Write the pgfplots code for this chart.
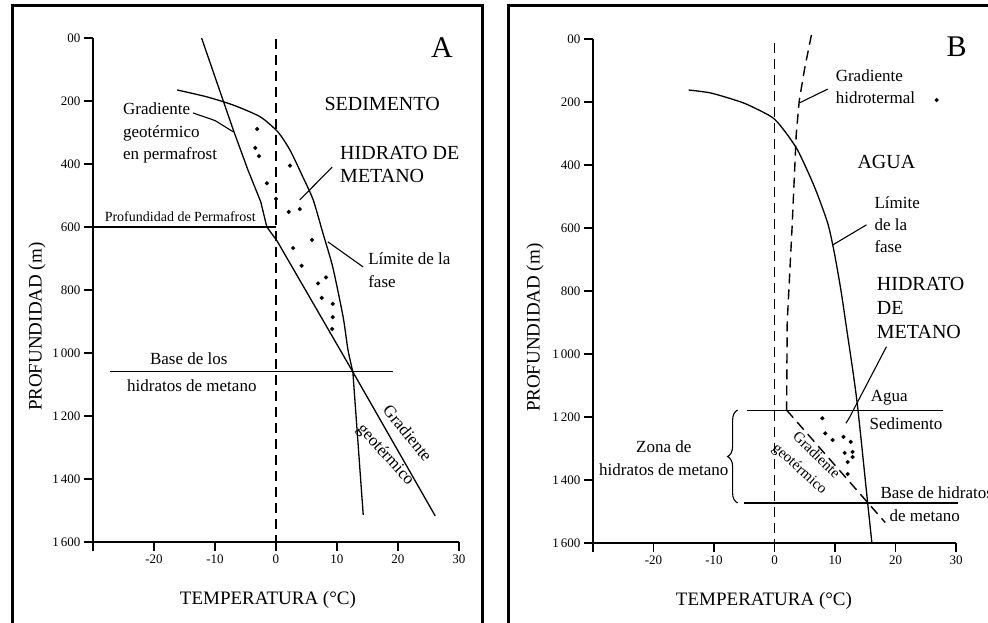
\documentclass[border=0pt]{standalone}
\usepackage{fontspec}
\setmainfont{Liberation Serif}
\usepackage{pgfplots}
\pgfplotsset{compat=1.18}
\usetikzlibrary{decorations.pathreplacing}

\newcommand\fs[2]{\fontsize{#1}{#2}\selectfont}

\pgfplotsset{
  panel/.style={
    scale only axis, width=366pt, height=504pt,
    xmin=-30, xmax=30, ymin=0, ymax=1600, y dir=reverse,
    axis x line*=bottom, axis y line*=left,
    axis line style={line width=1.3pt, -},
    xtick={-30,-20,...,30}, xticklabels={,-20,-10,0,10,20,30},
    ytick={0,200,...,1600},
    yticklabels={00,200,400,600,800,1\,000,1\,200,1\,400,1\,600},
    tick align=outside, major tick length=9pt,
    tick style={line width=1.2pt, black},
    xticklabel style={font=\fs{13}{13}},
    yticklabel style={font=\fs{13}{13}},
    xlabel={TEMPERATURA (°C)}, ylabel={PROFUNDIDAD (m)},
    label style={font=\fs{19}{19}},
    clip=false,
    cycle list={{black, mark=none}},
  },
  every axis plot/.append style={line width=1.3pt, black},
}
\tikzset{
  dsh/.style={dash pattern=on 10pt off 6pt, line width=1.4pt},
  lab/.style={font=\fs{17}{22.5}, inner sep=0pt},
  biglab/.style={font=\fs{20}{23}, inner sep=0pt},
}

\begin{document}
\begin{tikzpicture}
% frames
\draw[line width=3pt] (12pt,-10pt) -- (12pt,617pt) -- (482pt,617pt) -- (482pt,-10pt);
\draw[line width=3pt] (508pt,-10pt) -- (508pt,617pt) -- (1000pt,617pt);

%================ PANEL A =================
\begin{axis}[panel, at={(93pt,81pt)}, anchor=south west,
  xlabel style={at={(axis description cs:0.478,0)}, anchor=center, yshift=-58pt},
  ylabel style={at={(axis description cs:0,0.427)}, anchor=center, yshift=56pt}]
% 0 C dashed
\addplot[dsh] coordinates {(0,3) (0,1600)};
% geothermal gradient (permafrost + below)
\addplot coordinates {(-12.2,0) (-7.0,292) (-4.6,419) (-2.5,520) (-1.5,600) (0.2,645) (12.6,1060) (26.1,1517)};
% phase boundary
\addplot[smooth, tension=0.4] coordinates {(-16.2,165) (-11.3,187) (-7.0,213) (-2.6,250) (0.3,298) (2.3,356) (4.4,441) (6.1,514) (7.7,620) (9.3,727) (11.0,885) (11.8,990) (12.6,1060)};
\addplot coordinates {(12.6,1060) (14.3,1514)};
% horizontal lines
\addplot[line width=1.1pt] coordinates {(-30,600) (0,600)};
\addplot[line width=1.1pt] coordinates {(-27.2,1060) (19.2,1060)};
% leaders
\addplot[line width=1.1pt] coordinates {(-13.6,238) (-10,262) (-7.0,298)};
\addplot[line width=1.1pt] coordinates {(9.2,410) (3.9,514)};
\addplot[line width=1.1pt] coordinates {(14.3,727) (8.5,647)};
% hydrate dots
\addplot[only marks, mark=*, mark size=1.3pt] coordinates {
(-3.1,289) (-3.4,349) (-2.8,375) (-1.5,461) (2.3,405) (0.0,511) (2.1,552) (3.9,543)
(5.9,641) (2.8,667) (4.2,723) (6.9,779) (8.2,760) (7.5,825) (9.3,844) (9.3,886) (9.2,924)};
% texts
\node[font=\fs{30}{30}] at (axis cs:27.2,32) {A};
\node[biglab] at (axis cs:17.4,210) {SEDIMENTO};
\node[biglab, align=left, anchor=west] at (axis cs:10.5,400) {HIDRATO DE\\METANO};
\node[lab, align=left, anchor=west] at (axis cs:-25.1,302) {Gradiente\\geotérmico\\en permafrost};
\node[font=\fs{14}{14}, inner sep=0pt] at (axis cs:-15.7,568) {Profundidad de Permafrost};
\node[lab, align=left, anchor=west] at (axis cs:15.1,737) {Límite de la\\fase};
\node[lab] at (axis cs:-14.3,1019) {Base de los};
\node[lab] at (axis cs:-13.8,1105) {hidratos de metano};
\node[lab, rotate=-51] at (axis cs:21.6,1254) {Gradiente};
\node[lab, rotate=-48] at (axis cs:17.9,1324) {geotérmico};
\end{axis}

%================ PANEL B =================
\begin{axis}[panel, at={(593pt,80pt)}, anchor=south west, width=363pt,
  xlabel style={at={(axis description cs:0.471,0)}, anchor=center, yshift=-58pt},
  ylabel style={at={(axis description cs:0,0.427)}, anchor=center, yshift=58pt}]
% 0 C dashed
\addplot[dsh] coordinates {(0,12) (0,1600)};
% hydrothermal gradient dashed
\addplot[dsh] coordinates {(6.1,-13) (5.0,92) (4.1,194) (3.6,300) (2.9,600) (2.1,900) (2.0,1178)};
% geothermal gradient (sediment) dashed
\addplot[dsh] coordinates {(2.0,1178) (18.3,1535)};
% phase boundary
\addplot[smooth, tension=0.4] coordinates {(-14.2,162) (-10.4,172) (-5.0,204) (-0.5,247) (1.3,283) (3.8,352) (6.6,469) (8.8,585) (9.9,680) (11.0,800) (12.0,930) (13.0,1060) (13.8,1178) (15.4,1473) (16.1,1600)};
% horizontal lines
\addplot[line width=1.1pt] coordinates {(-4.6,1178) (27.8,1178)};
\addplot[line width=1.1pt] coordinates {(-5.0,1473) (30.3,1473)};
% leaders
\addplot[line width=1.1pt] coordinates {(8.8,159) (4.1,203)};
\addplot[line width=1.1pt] coordinates {(15.2,590) (9.6,654)};
\addplot[line width=1.1pt] coordinates {(18.5,977) (12.3,1205) (11.8,1220)};
% dots
\addplot[only marks, mark=*, mark size=1.3pt] coordinates {
(7.9,1204) (8.4,1252) (9.6,1273) (11.4,1263) (12.6,1279) (11.6,1314) (12.9,1311)
(12.9,1327) (12.1,1343) (12.1,1381) (26.8,194)};
% brace
\draw[line width=1.1pt, decorate, decoration={brace, amplitude=10pt}] (axis cs:-6.1,1473) -- (axis cs:-6.1,1178);
% texts
\node[font=\fs{30}{30}] at (axis cs:30.1,25) {B};
\node[lab, align=left, anchor=west] at (axis cs:10.1,152) {Gradiente\\hidrotermal};
\node[biglab] at (axis cs:18.5,391) {AGUA};
\node[lab, align=left, anchor=west, font=\fs{17}{22}] at (axis cs:16.5,590) {Límite\\de la\\fase};
\node[biglab, align=left, anchor=west, font=\fs{20}{24}] at (axis cs:16.9,854) {HIDRATO\\DE\\METANO};
\node[lab, anchor=west] at (axis cs:15.9,1140) {Agua};
\node[lab, anchor=west] at (axis cs:15.7,1222) {Sedimento};
\node[lab, align=center, font=\fs{17}{23}] at (axis cs:-18.3,1331) {Zona de\\hidratos de metano};
\node[lab, rotate=-44, font=\fs{15}{15}] at (axis cs:7.0,1320) {Gradiente};
\node[lab, rotate=-42, font=\fs{15}{15}] at (axis cs:4.1,1366) {geotérmico};
\node[lab, anchor=west] at (axis cs:17.5,1441) {Base de hidratos};
\node[lab, anchor=west] at (axis cs:19.0,1514) {de metano};
\end{axis}

\pgfresetboundingbox
\path[use as bounding box] (0pt,0pt) rectangle (988pt,623pt);
\end{tikzpicture}
\end{document}
